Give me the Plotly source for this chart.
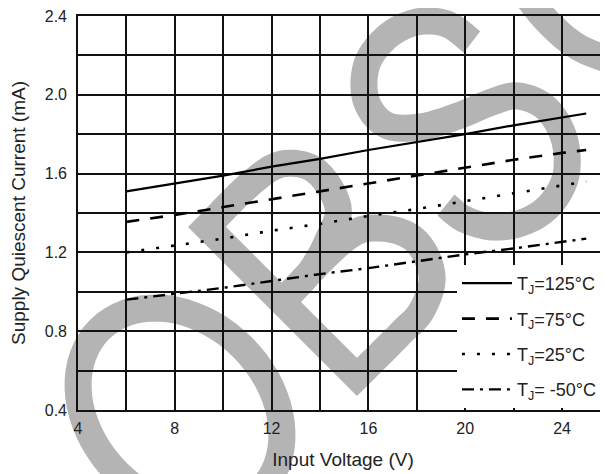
import math
import plotly.graph_objects as go

# ---------------- data ----------------
voltage = [6, 8, 10, 12, 14, 16, 18, 20, 22, 24, 25]
i_125 = [1.51, 1.55, 1.59, 1.635, 1.675, 1.72, 1.76, 1.80, 1.845, 1.885, 1.905]
i_75 = [1.355, 1.39, 1.43, 1.47, 1.51, 1.55, 1.59, 1.63, 1.67, 1.705, 1.72]
i_25 = [1.20, 1.235, 1.27, 1.31, 1.345, 1.385, 1.42, 1.46, 1.50, 1.54, 1.56]
i_m50 = [0.96, 0.99, 1.02, 1.055, 1.09, 1.12, 1.155, 1.19, 1.22, 1.255, 1.27]
series_names = ["T<sub>J</sub>=125°C", "T<sub>J</sub>=75°C", "T<sub>J</sub>=25°C", "T<sub>J</sub>= -50°C"]
x_ticks = [4, 8, 12, 16, 20, 24]
y_ticks = [0.4, 0.8, 1.2, 1.6, 2.0, 2.4]
y_tick_labels = ["0.4", "0.8", "1.2", "1.6", "2.0", "2.4"]
x_title = "Input Voltage (V)"
y_title = "Supply Quiescent Current (mA)"

# ---------------- layout geometry (screen pixels; page body adds an 8px offset) ----------------
OFF = 8
W, H = 608 - OFF, 474 - OFF
PL, PR, PT, PB = 78, 608, 16, 410          # plot area in screen px
ML, MR, MT = PL - OFF, 0, PT - OFF
MB = (H + OFF) - PB
PW, PH = PR - PL, PB - PT

def to_paper(pts):
    return [((px - PL) / PW, (PB - py) / PH) for px, py in pts]

def catmull(points, n=10):
    out = [points[0]]
    p = [points[0]] + points + [points[-1]]
    for i in range(1, len(p) - 2):
        p0, p1, p2, p3 = p[i - 1], p[i], p[i + 1], p[i + 2]
        for k in range(1, n + 1):
            t = k / n
            t2, t3 = t * t, t * t * t
            x = 0.5 * ((2 * p1[0]) + (-p0[0] + p2[0]) * t + (2 * p0[0] - 5 * p1[0] + 4 * p2[0] - p3[0]) * t2 + (-p0[0] + 3 * p1[0] - 3 * p2[0] + p3[0]) * t3)
            y = 0.5 * ((2 * p1[1]) + (-p0[1] + p2[1]) * t + (2 * p0[1] - 5 * p1[1] + 4 * p2[1] - p3[1]) * t2 + (-p0[1] + 3 * p1[1] - 3 * p2[1] + p3[1]) * t3)
            out.append((x, y))
    return out

def path_str(pts, close=False):
    pp = to_paper(pts)
    s = "M %.4f,%.4f " % pp[0] + " ".join("L %.4f,%.4f" % q for q in pp[1:])
    return s + (" Z" if close else "")

# watermark ("OBSOLETE" stamp) centre-lines, in screen pixels
wm_O = []
cx, cy, a, b = 180, 410, 113.8, 88.6
for k in range(73):
    th = 2 * math.pi * k / 72
    s_, t_ = a * math.cos(th), b * math.sin(th)
    wm_O.append((cx + (s_ + t_) / math.sqrt(2), cy + (s_ - t_) / math.sqrt(2)))

B_top = [(207, 227), (250, 184), (282, 164), (316, 171), (338, 207), (328, 240), (310, 272), (282, 302)]
B_bot = [(282, 302), (345, 239), (380, 228), (415, 240), (432, 275), (422, 310), (400, 334), (357, 377)]
wm_B = [(357, 377)] + catmull(B_top) + catmull(B_bot)[1:]
wm_S = catmull([(472, 42), (447, 24), (417, 22), (388, 36), (367, 64), (366, 100), (386, 125), (420, 127),
                (458, 116), (492, 102), (518, 96), (546, 108), (564, 138), (566, 175), (550, 205),
                (524, 222), (493, 227), (464, 219), (446, 205)])
wm_O2 = catmull([(522, -10), (548, 22), (578, 47), (615, 62)])

wm_style = dict(type="path", xref="paper", yref="paper", layer="below",
                line=dict(color="#b4b4b4", width=27), fillcolor="rgba(0,0,0,0)")
shapes = [
    dict(path=path_str(wm_O, close=True), **wm_style),
    dict(path=path_str(wm_B, close=True), **wm_style),
    dict(path=path_str(wm_S), **wm_style),
    dict(path=path_str(wm_O2), **wm_style),
]

# ---------------- figure ----------------
fig = go.Figure()
styles = [
    dict(width=2.2, dash="solid"),
    dict(width=2.6, dash="13px,11px"),
    dict(width=2.6, dash="3px,12px"),
    dict(width=2.4, dash="12px,6px,3px,6px"),
]
for name, ys, st in zip(series_names, [i_125, i_75, i_25, i_m50], styles):
    fig.add_trace(go.Scatter(x=voltage, y=ys, mode="lines", name=name, legendgroup=name,
                             line=dict(color="black", **st)))

grid = dict(showgrid=True, gridcolor="#111111", gridwidth=1.6)
tickfont = dict(family="Arial", size=16, color="#222222")
titlefont = dict(family="Arial", size=19, color="#222222")

fig.update_layout(
    width=W, height=H,
    margin=dict(l=ML, r=MR, t=MT, b=MB),
    paper_bgcolor="white", plot_bgcolor="rgba(0,0,0,0)",
    shapes=shapes,
    xaxis=dict(range=[4, 25.9], tickmode="array", tickvals=x_ticks, ticks="", zeroline=False,
               showline=True, linecolor="#111111", linewidth=1.6, mirror=True,
               minor=dict(tick0=4, dtick=2, **grid), tickfont=tickfont,
               ticklabelstandoff=3, ticklabeloverflow="allow",
               title=dict(text=x_title, font=titlefont, standoff=17), **grid),
    yaxis=dict(range=[0.4, 2.4], tickmode="array", tickvals=y_ticks, ticktext=y_tick_labels,
               ticks="", zeroline=False,
               showline=True, linecolor="#111111", linewidth=1.6,
               minor=dict(tick0=0.4, dtick=0.2, **grid), tickfont=tickfont,
               ticklabelstandoff=6, ticklabeloverflow="allow",
               title=dict(text=y_title, font=titlefont, standoff=22), **grid),
    legend=dict(x=0.715, y=0.368, xanchor="left", yanchor="top", bgcolor="white",
                font=dict(family="Arial", size=18, color="#222222"),
                tracegroupgap=9, itemwidth=50),
    showlegend=True,
)

fig.write_html("out.html")
